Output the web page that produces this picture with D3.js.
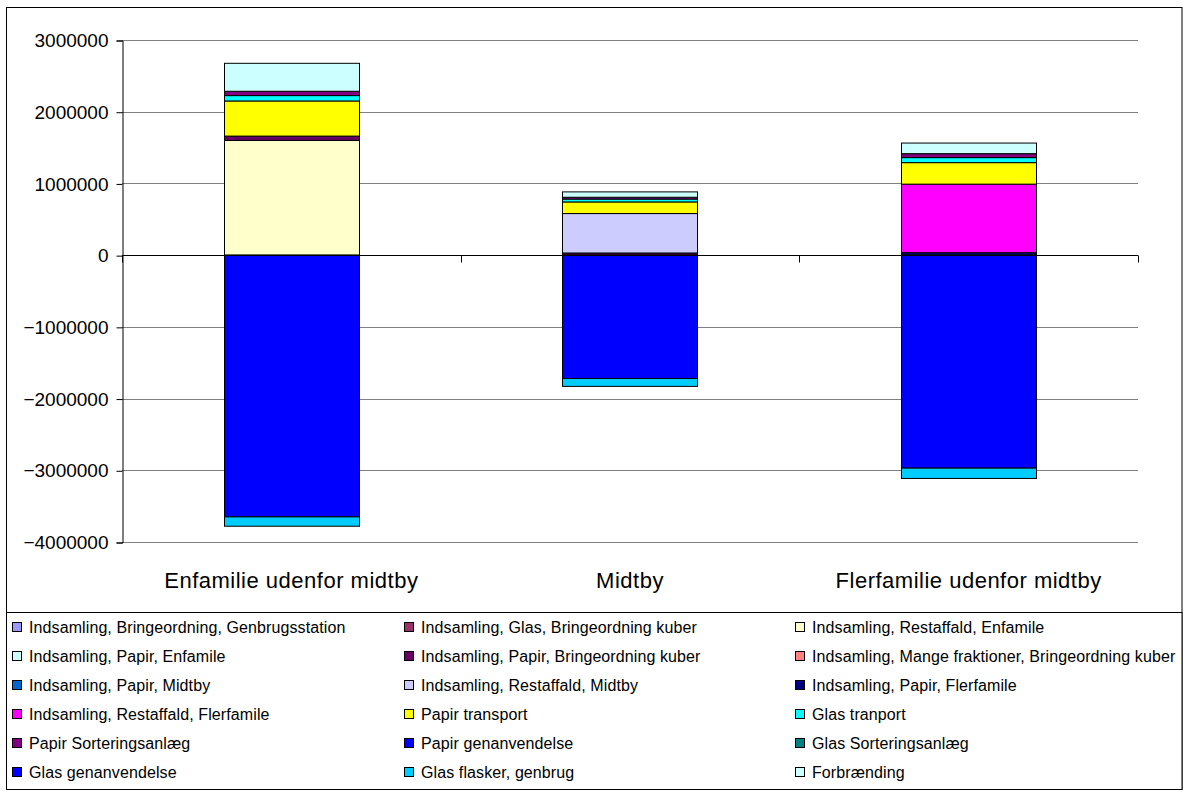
<!DOCTYPE html>
<html><head><meta charset="utf-8">
<script src="https://cdn.jsdelivr.net/npm/d3@7"></script>
<style>
html,body{margin:0;padding:0;background:#fff;}
text{font-family:"Liberation Sans",Arial,sans-serif;fill:#000;}
</style></head>
<body>
<svg id="chart" width="1191" height="792"></svg>
<script>
const categories = ["Enfamilie udenfor midtby", "Midtby", "Flerfamilie udenfor midtby"];
const seriesNames = [
  "Indsamling, Bringeordning, Genbrugsstation",
  "Indsamling, Glas, Bringeordning kuber",
  "Indsamling, Restaffald, Enfamile",
  "Indsamling, Papir, Enfamile",
  "Indsamling, Papir, Bringeordning kuber",
  "Indsamling, Mange fraktioner, Bringeordning kuber",
  "Indsamling, Papir, Midtby",
  "Indsamling, Restaffald, Midtby",
  "Indsamling, Papir, Flerfamile",
  "Indsamling, Restaffald, Flerfamile",
  "Papir transport",
  "Glas tranport",
  "Papir Sorteringsanlæg",
  "Papir genanvendelse",
  "Glas Sorteringsanlæg",
  "Glas genanvendelse",
  "Glas flasker, genbrug",
  "Forbrænding"
];
const seriesColors = [
  "#9999FF","#993366","#FFFFCC","#CCFFFF","#660066","#FF8080",
  "#0066CC","#CCCCFF","#000080","#FF00FF","#FFFF00","#00FFFF",
  "#800080","#0000FF","#008080","#0000FF","#00CCFF","#CCFFFF"
];
// values per series: [Enfamilie, Midtby, Flerfamilie]
const seriesValues = [
  [0, 0, 0],
  [0, 0, 0],
  [1600000, 0, 0],
  [0, 0, 0],
  [60000, 30000, 0],
  [0, 0, 0],
  [0, 0, 0],
  [0, 550000, 0],
  [0, 0, 35000],
  [0, 0, 955000],
  [490000, 162000, 300000],
  [75000, 40000, 70000],
  [60000, 25000, 55000],
  [-3650000, -1720000, -2970000],
  [0, 0, 0],
  [0, 0, 0],
  [-130000, -110000, -144000],
  [390000, 75000, 148000]
];
const yTicks = [3000000, 2000000, 1000000, 0, -1000000, -2000000, -3000000, -4000000];

const svg = d3.select("#chart");
const plot = {left:122, right:1138, top:40, bottom:542};

// outer frame
svg.append("rect").attr("x",6.5).attr("y",7.5).attr("width",1175.5).attr("height",782)
  .attr("fill","#fff").attr("stroke","#000").attr("stroke-width",1);

const y = d3.scaleLinear().domain([-4000000, 3000000]).range([plot.bottom, plot.top]);
const x = d3.scaleBand().domain(categories).range([plot.left, plot.right])
  .paddingInner(0.6).paddingOuter(0.3);

// gridlines
svg.append("g").selectAll("line").data(yTicks).join("line")
  .attr("x1", plot.left).attr("x2", plot.right)
  .attr("y1", d => Math.round(y(d)) + 0.5).attr("y2", d => Math.round(y(d)) + 0.5)
  .attr("stroke", "#808080").attr("stroke-width", 1);

// stacked bars
const segs = [];
categories.forEach((c, ci) => {
  let pos = 0, neg = 0;
  seriesValues.forEach((vals, si) => {
    const v = vals[ci];
    if (v === 0) return;
    let y0, y1;
    if (v > 0) { y0 = pos; y1 = pos + v; pos = y1; }
    else { y0 = neg; y1 = neg + v; neg = y1; }
    segs.push({c, si, y0, y1});
  });
});
svg.append("g").selectAll("rect").data(segs).join("rect")
  .attr("x", d => Math.round(x(d.c)) + 0.5)
  .attr("width", Math.round(x.bandwidth()))
  .attr("y", d => y(Math.max(d.y0, d.y1)))
  .attr("height", d => Math.abs(y(d.y0) - y(d.y1)))
  .attr("fill", d => seriesColors[d.si])
  .attr("stroke", "#000").attr("stroke-width", 1);

// y axis
const yAxis = d3.axisLeft(y).tickValues(yTicks).tickSize(6).tickPadding(8).tickFormat(d3.format("d"));
const gy = svg.append("g").attr("transform", `translate(${plot.left + 0.5},0.5)`).call(yAxis);
gy.select(".domain").attr("stroke", "#000");
gy.selectAll(".tick line").attr("stroke", "#000");
gy.selectAll("text").attr("font-size", 19).attr("font-family", "Liberation Sans, Arial, sans-serif");

// category axis at zero
const gx = svg.append("g").attr("transform", `translate(0,${Math.round(y(0)) + 0.5})`);
gx.append("line").attr("x1", plot.left).attr("x2", plot.right).attr("stroke", "#000");
const step = x.step();
const boundaries = d3.range(categories.length + 1).map(i => plot.left + i * step);
gx.selectAll("line.tk").data(boundaries).join("line").attr("class","tk")
  .attr("x1", d => Math.round(d) + 0.5).attr("x2", d => Math.round(d) + 0.5)
  .attr("y1", 0).attr("y2", 7).attr("stroke", "#000");

// category labels
svg.append("g").selectAll("text").data(categories).join("text")
  .attr("x", d => x(d) + x.bandwidth() / 2)
  .attr("y", 588)
  .attr("text-anchor", "middle")
  .attr("font-size", 22)
  .attr("letter-spacing", 0.5)
  .text(d => d);

// legend
svg.append("rect").attr("x", 6.5).attr("y", 612.5).attr("width", 1175.5).attr("height", 177)
  .attr("fill", "#fff").attr("stroke", "#000");
const colX = [12, 404, 795];
const rowY = [627, 656, 685, 714, 743, 772];
const lg = svg.append("g").selectAll("g").data(seriesNames).join("g")
  .attr("transform", (d, i) => `translate(${colX[i % 3]},${rowY[Math.floor(i / 3)]})`);
lg.append("rect").attr("x", 0.5).attr("y", -4.5).attr("width", 9).attr("height", 9)
  .attr("fill", (d, i) => seriesColors[i]).attr("stroke", "#000");
lg.append("text").attr("x", 17).attr("y", 6).attr("font-size", 16).attr("letter-spacing", 0.1).text(d => d);
</script>
</body></html>
